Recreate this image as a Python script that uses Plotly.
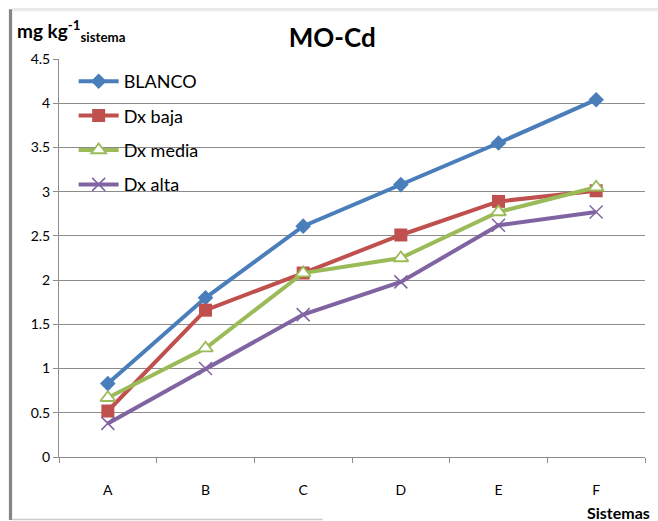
import plotly.graph_objects as go

# Sistemas (x) and MO-Cd concentration per treatment
sistemas = ["A", "B", "C", "D", "E", "F"]
blanco = [0.83, 1.80, 2.61, 3.08, 3.55, 4.04]
dx_baja = [0.52, 1.66, 2.08, 2.51, 2.89, 3.01]
dx_media = [0.67, 1.23, 2.08, 2.25, 2.77, 3.05]
dx_alta = [0.38, 1.00, 1.61, 1.98, 2.62, 2.77]
y_ticks = [0, 0.5, 1, 1.5, 2, 2.5, 3, 3.5, 4, 4.5]

FONT = "Lato, Carlito, Calibri, sans-serif"

series = [
    ("BLANCO", blanco, "#4A7EBB", dict(symbol="diamond", size=12, color="#4A7EBB")),
    ("Dx baja", dx_baja, "#C0504D", dict(symbol="square", size=13, color="#C0504D")),
    ("Dx media", dx_media, "#9BBB59",
     dict(symbol="triangle-up", size=13, color="white", line=dict(color="#9BBB59", width=1.8))),
    ("Dx alta", dx_alta, "#8064A2",
     dict(symbol="x-thin", size=13, color="#8064A2", line=dict(color="#8064A2", width=1.5))),
]

fig = go.Figure()
for name, vals, col, mk in series:
    fig.add_trace(go.Scatter(
        x=sistemas, y=vals, name=name, mode="lines+markers",
        line=dict(color=col, width=4), marker=mk, legendgroup=name,
    ))

fig.update_layout(
    width=658, height=521,
    margin=dict(l=59, r=13, t=59, b=64),
    paper_bgcolor="white", plot_bgcolor="white",
    font=dict(family=FONT, size=14, color="black"),
    showlegend=True,
    legend=dict(
        x=0.025, y=0.99, xanchor="left", yanchor="top",
        font=dict(family=FONT, size=18, color="black"),
        bgcolor="rgba(0,0,0,0)", tracegroupgap=8, itemwidth=40,
    ),
    title=dict(text="<b>MO-Cd</b>", x=0.505, xanchor="center", y=0.928, yanchor="middle",
               font=dict(family=FONT, size=26, color="black")),
)

fig.update_xaxes(
    type="category", range=[-0.5, 5.5], tickson="boundaries", ticks="outside", ticklen=5,
    tickcolor="#8C8C8C", showline=True, linecolor="#8C8C8C", linewidth=1,
    showgrid=False, tickfont=dict(size=14), ticklabelstandoff=20, automargin=False,
)
fig.update_yaxes(
    range=[0, 4.5], tickvals=y_ticks, ticktext=[f"{v:g}" for v in y_ticks],
    ticks="outside", ticklen=5, tickcolor="#8C8C8C",
    showline=True, linecolor="#8C8C8C", linewidth=1,
    showgrid=True, gridcolor="#8C8C8C", gridwidth=1, zeroline=False,
    tickfont=dict(size=14), automargin=False,
)

# axis captions
fig.add_annotation(text="<b>mg kg<sup>-1</sup><sub>sistema</sub></b>", xref="paper", yref="paper",
                   x=-0.075, y=1.03, xanchor="left", yanchor="bottom", showarrow=False,
                   font=dict(family=FONT, size=19, color="black"))
fig.add_annotation(text="<b>Sistemas</b>", xref="paper", yref="paper",
                   x=1.012, y=-0.11, xanchor="right", yanchor="top", showarrow=False,
                   font=dict(family=FONT, size=16, color="black"))

# chart frame: light top edge, shaded left edge, light bottom edge
fig.add_shape(type="rect", xref="paper", yref="paper", x0=-0.08, x1=1.03, y0=1.120, y1=1.128,
              fillcolor="#EBEBEB", line=dict(width=0), layer="below")
fig.add_shape(type="rect", xref="paper", yref="paper", x0=-0.0855, x1=-0.080, y0=-0.158, y1=1.125,
              fillcolor="#858585", line=dict(width=0), layer="below")
fig.add_shape(type="rect", xref="paper", yref="paper", x0=-0.080, x1=0.45, y0=-0.159, y1=-0.155,
              fillcolor="#CCCCCC", line=dict(width=0), layer="below")

fig.write_html("out.html")
